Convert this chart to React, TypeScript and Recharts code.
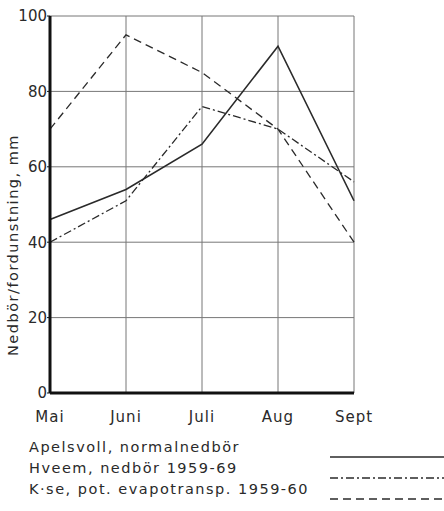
import { LineChart, Line, XAxis, YAxis, CartesianGrid } from "recharts";

const months = ["Mai", "Juni", "Juli", "Aug", "Sept"];
const apelsvoll = [46, 54, 66, 92, 51];
const hveem = [40, 51, 76, 70, 56];
const kise = [70, 95, 85, 70, 40];
const yTicks = [0, 20, 40, 60, 80, 100];

const seriesNames = [
  "Apelsvoll, normalnedbör",
  "Hveem, nedbör 1959-69",
  "K\u00b7se, pot. evapotransp. 1959-60",
];
const seriesDash = ["", "8 3 2 3", "8 5"];

const data = months.map((m, i) => ({
  month: m,
  apelsvoll: apelsvoll[i],
  hveem: hveem[i],
  kise: kise[i],
}));

const INK = "#2a2a2a";
const FONT = "'DejaVu Sans', sans-serif";

function YLabel() {
  return (
    <text
      x={13}
      y={245}
      transform="rotate(-90, 13, 245)"
      textAnchor="middle"
      dominantBaseline="central"
      fill={INK}
      fontSize={14.5}
      fontFamily={FONT}
      letterSpacing={1.5}
    >
      Nedbör/fordunstning, mm
    </text>
  );
}

function KeyRows() {
  return (
    <svg width={444} height={80} style={{ position: "absolute", left: 0, top: 432 }}>
      {seriesNames.map((name, i) => (
        <g key={name}>
          <text
            x={29}
            y={20 + i * 21}
            fill={INK}
            fontSize={14.5}
            fontFamily={FONT}
            letterSpacing={1.5}
          >
            {name}
          </text>
          <line
            x1={330}
            x2={444}
            y1={25 + i * 21}
            y2={25 + i * 21}
            stroke={INK}
            strokeWidth={1.3}
            strokeDasharray={seriesDash[i] || undefined}
          />
        </g>
      ))}
    </svg>
  );
}

export default function App() {
  return (
    <div style={{ position: "absolute", left: 0, top: 0, width: 444, height: 511, background: "#fff" }}>
      <LineChart
        width={444}
        height={432}
        data={data}
        margin={{ top: 16, right: 90, bottom: 0, left: 8 }}
      >
        <CartesianGrid stroke="#777" strokeWidth={1} />
        <XAxis
          dataKey="month"
          axisLine={{ stroke: "#111", strokeWidth: 3 }}
          tickLine={false}
          tick={{ fill: INK, fontSize: 15, fontFamily: FONT, letterSpacing: 1 }}
          tickMargin={12}
          height={39}
        />
        <YAxis
          domain={[0, 100]}
          ticks={yTicks}
          axisLine={{ stroke: "#111", strokeWidth: 3 }}
          tickLine={{ stroke: "#111" }}
          tickSize={3}
          tickMargin={0}
          width={42}
          tick={{ fill: INK, fontSize: 15, fontFamily: FONT }}
          label={<YLabel />}
        />
        <Line
          dataKey="apelsvoll"
          stroke={INK}
          strokeWidth={1.6}
          dot={false}
          isAnimationActive={false}
        />
        <Line
          dataKey="hveem"
          stroke={INK}
          strokeWidth={1.3}
          strokeDasharray={seriesDash[1]}
          dot={false}
          isAnimationActive={false}
        />
        <Line
          dataKey="kise"
          stroke={INK}
          strokeWidth={1.3}
          strokeDasharray={seriesDash[2]}
          dot={false}
          isAnimationActive={false}
        />
      </LineChart>
      <KeyRows />
    </div>
  );
}
